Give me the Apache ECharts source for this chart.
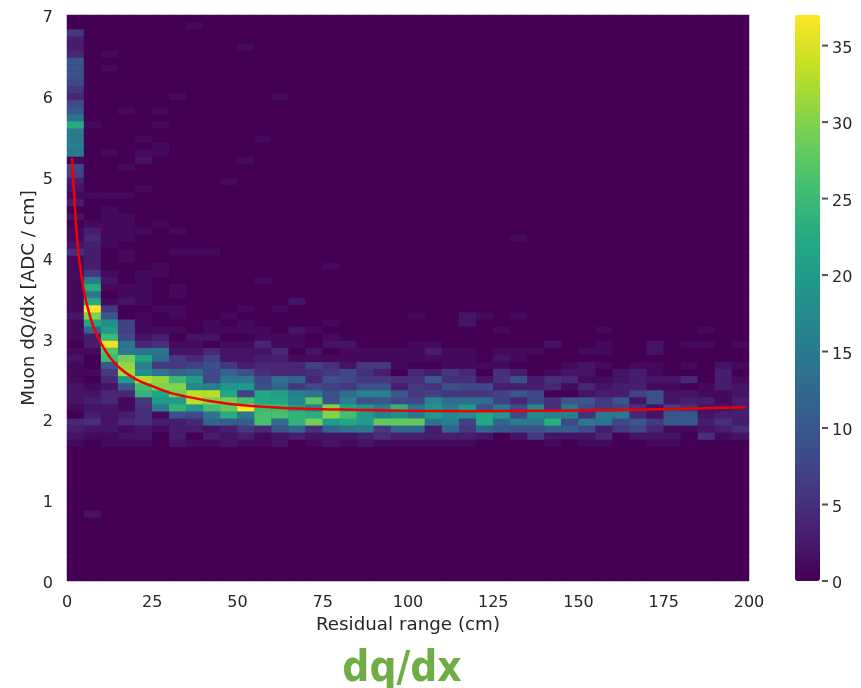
<!DOCTYPE html>
<html><head><meta charset="utf-8">
<style>html,body{margin:0;padding:0;background:#fff}#c{width:861px;height:688px}</style>
<script src="https://cdn.jsdelivr.net/npm/echarts@6/dist/echarts.min.js"></script>
</head><body><div id="c"></div>
<script>
// histogram layout: 40 x-bins over 0-200 cm, 80 y-bins over 0-7
const xBinCount = 40, yBinCount = 80, xMax = 200, yMax = 7, countMax = 37;
const xTicks = [0,25,50,75,100,125,150,175,200];
const yTicks = [0,1,2,3,4,5,6,7];
const colorbarTicks = [0,5,10,15,20,25,30,35];
const viridis = ['#440154','#482475','#414487','#355f8d','#2a788e','#21918c','#22a884','#44bf70','#7ad151','#bddf26','#fde725'];
const firstRow = 19; // each column list starts at y-bin 19
const columns = [
[1,2,3,4,0,1,2,2,2,1,1,1,2,1,0,1,1,1,2,1,1,1,1,1,1,1,1,5,2,1,1],
[0,1,2,5,3,2,3,2,1,0,1,0,0,1,3,3,12,22,30,37,23,15,23,15,6,3,3,3,3,4,3],
[1,1,2,2,2,2,4,4,2,4,6,10,25,27,36,25,20,18,10,6,1,0,1,2,1,0,0,0,1,1,1],
[1,2,1,4,3,1,1,4,10,20,32,31,29,15,14,8,7,7,0,0,2,1,1,0,0,0,1,1,0,1,1],
[1,2,2,5,5,5,6,24,26,33,18,16,22,14,4,2,1,1,1,0,1,1,1,1,1,0,0,0,0,0,1],
[0,0,1,3,1,15,20,22,30,31,14,6,13,14,5,3,1,0,0,1,0,0,0,0,1,1,0,0,0,0,0],
[2,3,3,3,9,24,20,29,30,25,12,6,6,2,1,0,1,0,1,1,0,1,1,0,0,0,0,1,0,0,1],
[1,0,3,4,8,20,33,33,17,20,13,7,4,2,1,2,0,0,0,0,0,0,0,0,0,0,0,1,0,0,0],
[1,3,2,12,14,26,30,33,16,8,8,9,7,4,0,2,1,1,0,0,0,0,0,0,0,0,0,1,0,0,0],
[2,2,3,11,23,28,29,22,19,15,12,6,2,2,1,0,1,0,1],
[1,3,6,11,15,37,26,7,20,15,9,3,2,2,1,0,1,1,0,1],
[1,1,4,26,26,25,22,22,9,8,5,4,3,2,4,1,1,0,0,0,0,0,0,1],
[2,2,9,13,26,25,22,21,12,13,4,4,3,4,1,1,0,0,0,1],
[0,3,12,24,24,20,17,16,6,12,4,4,1,0,1,1,2,0,0,0,2],
[1,2,5,29,23,16,27,14,8,4,5,7,1,2,0,0,1],
[2,2,12,20,30,30,9,9,7,9,6,5,1,0,2,1,0,1,0,0,0,0,0,0,0,1],
[1,2,14,22,26,21,16,13,6,8,8,2,1,1,2],
[2,3,15,20,20,19,9,16,9,6,5,6,1,1],
[1,5,6,28,16,15,10,16,9,6,3,6,1,1],
[1,3,12,28,18,24,8,10,3,5,0,1,1,1],
[1,3,12,28,14,14,8,6,6,5,4,0,1,1,1,0,0,0,1],
[1,3,3,14,20,19,17,7,5,10,3,0,1,3,1],
[1,3,12,16,17,15,13,6,9,5,6,1,1,1],
[1,3,6,7,18,20,13,6,8,5,4,1,1,1,0,0,0,2,2],
[0,2,12,22,22,9,13,6,8,2,0,1,0,0,0,0,0,0,1],
[0,0,10,12,19,14,7,7,3,5,5,1,2,1,0,0,1],
[0,2,9,15,8,8,4,10,3,9,3,0,1,1,0,0,0,0,1,0,0,0,0,0,0,0,0,0,0,1],
[0,6,9,15,18,17,8,8,3,3,0,0,0,1],
[1,2,11,23,16,5,5,0,4,5,1,0,0,0,2],
[0,2,11,8,16,15,10,0,1,4,2,1],
[1,2,8,15,5,8,10,2,4,1,2,2,0,1],
[1,4,3,14,15,6,6,3,2,1,0,1,0,1,1,0,1],
[0,0,6,8,15,7,10,3,3,2,2],
[0,2,8,10,4,5,2,7,3,3,3,1],
[1,2,4,6,2,2,9,9,1,2,1,1,0,2,2],
[1,2,1,10,10,7,2,2,1,2],
[0,0,1,10,10,5,3,2,0,4,0,1,0,0,1],
[0,5,2,3,2,2,3,1,1,0,0,0,0,0,1,0,1],
[0,1,3,5,3,2,1,1,3,3,3,2],
[0,2,5,3,3,3,3,2,2,1,0,1,0,0,1]
];
// first-column values from y-bin 50 to 77
const firstColumnUpper = [0,2,0,3,1,2,3,7,8,1,15,16,15,15,23,14,10,8,4,6,8,9,9,10,4,3,3,6];
// scattered cells elsewhere: [column, y-bin, count]
const scatterCells = [
[1,9,2],[7,78,1],[2,74,1],[2,72,1],[10,75,1],[6,68,1],[12,68,1],[3,66,1],[5,66,1],[5,64,1],[1,64,1],
[4,62,1],[11,62,1],[5,61,1],[5,60,1],[2,60,1],[4,60,1],[4,59,2],[10,59,1],[3,58,1],[9,56,1],[4,55,1],
[1,54,1],[2,54,1],[3,54,1],[2,52,1],[2,51,1],[3,51,1],[2,50,1],[3,50,1],[5,50,1],[1,50,1]
];
// fitted curve
const fitX = [1.5,2,3,4,5,6,7,8,10,12,15,20,25,30,35,40,50,60,70,80,100,120,140,160,180,199];
const fitY = [5.23,4.85,4.22,3.84,3.58,3.39,3.24,3.12,2.94,2.80,2.65,2.50,2.41,2.33,2.28,2.24,2.18,2.15,2.13,2.12,2.105,2.10,2.105,2.115,2.13,2.15];

const grid = new Float32Array(xBinCount * yBinCount);
columns.forEach((col, i) => col.forEach((v, k) => { grid[i * yBinCount + firstRow + k] = v; }));
firstColumnUpper.forEach((v, k) => { grid[50 + k] = v; });
scatterCells.forEach(([i, j, v]) => { grid[i * yBinCount + j] = v; });
const cells = [];
for (let i = 0; i < xBinCount; i++) for (let j = 0; j < yBinCount; j++) cells.push([i, j, grid[i * yBinCount + j]]);
const xCats = Array.from({length: xBinCount}, (_, i) => String(i));
const yCats = Array.from({length: yBinCount}, (_, i) => String(i));

const ink = '#262626', font = 'DejaVu Sans', fs = 16, nameFs = 18.3;
const lifted = {
  formatter: '{v|{value}}',
  rich: {v: {color: ink, fontFamily: font, fontSize: fs, padding: [6, 0, 0, 0]}}
};
const chart = echarts.init(document.getElementById('c'), null, {renderer: 'canvas'});
chart.setOption({
  animation: false,
  backgroundColor: '#fff',
  title: {text: 'dq/dx', left: 397, textAlign: 'center', top: 644,
    textStyle: {color: '#70ad47', fontFamily: 'DejaVu Sans Condensed', fontWeight: 'bold', fontSize: 42}},
  grid: [
    {left: 67, top: 15, width: 682, height: 566, show: true, backgroundColor: '#440154', borderWidth: 0},
    {left: 795, top: 15, width: 25, height: 566, show: false}
  ],
  xAxis: [
    {type: 'category', gridIndex: 0, data: xCats, show: false},
    {type: 'value', gridIndex: 0, min: 0, max: xMax, interval: 25, position: 'bottom',
     name: 'Residual range (cm)', nameLocation: 'middle', nameGap: 35, nameMoveOverlap: false,
     nameTextStyle: {color: ink, fontFamily: font, fontSize: nameFs},
     axisLine: {show: false}, axisTick: {show: false}, splitLine: {show: false},
     axisLabel: {color: ink, fontFamily: font, fontSize: fs, margin: 14, customValues: xTicks}},
    {type: 'value', gridIndex: 1, min: 0, max: 1, show: false}
  ],
  yAxis: [
    {type: 'category', gridIndex: 0, data: yCats, show: false},
    {type: 'value', gridIndex: 0, min: 0, max: yMax, interval: 1, position: 'left',
     name: 'Muon dQ/dx [ADC / cm]', nameLocation: 'middle', nameGap: 29, nameMoveOverlap: false,
     nameTextStyle: {color: ink, fontFamily: font, fontSize: nameFs},
     axisLine: {show: false}, axisTick: {show: false}, splitLine: {show: false},
     axisLabel: {color: ink, fontFamily: font, fontSize: fs, margin: 14, customValues: yTicks, ...lifted}},
    {type: 'value', gridIndex: 1, min: 0, max: countMax, position: 'right',
     axisLine: {show: false}, splitLine: {show: false}, axisTick: {show: false},
     axisLabel: {color: ink, fontFamily: font, fontSize: fs, margin: 12, customValues: colorbarTicks, ...lifted}}
  ],
  visualMap: {
    type: 'continuous', seriesIndex: 0, dimension: 2, min: 0, max: countMax,
    left: 795, top: 15, itemWidth: 25, itemHeight: 566, padding: 0,
    calculable: false, hoverLink: false, showLabel: false, text: null,
    inRange: {color: viridis}
  },
  series: [
    {type: 'heatmap', xAxisIndex: 0, yAxisIndex: 0, data: cells, silent: true, progressive: 0,
     itemStyle: {borderWidth: 0}, emphasis: {disabled: true}},
    {type: 'line', xAxisIndex: 1, yAxisIndex: 1, data: fitX.map((x, i) => [x, fitY[i]]),
     smooth: 0.4, showSymbol: false, silent: true, z: 5,
     lineStyle: {color: '#f00000', width: 2.5}},
    {type: 'scatter', xAxisIndex: 2, yAxisIndex: 2, data: colorbarTicks.map(v => [1, v]),
     symbol: 'rect', symbolSize: [6, 2], symbolOffset: [5, 0], clip: false, silent: true,
     itemStyle: {color: ink}}
  ]
});
</script></body></html>
